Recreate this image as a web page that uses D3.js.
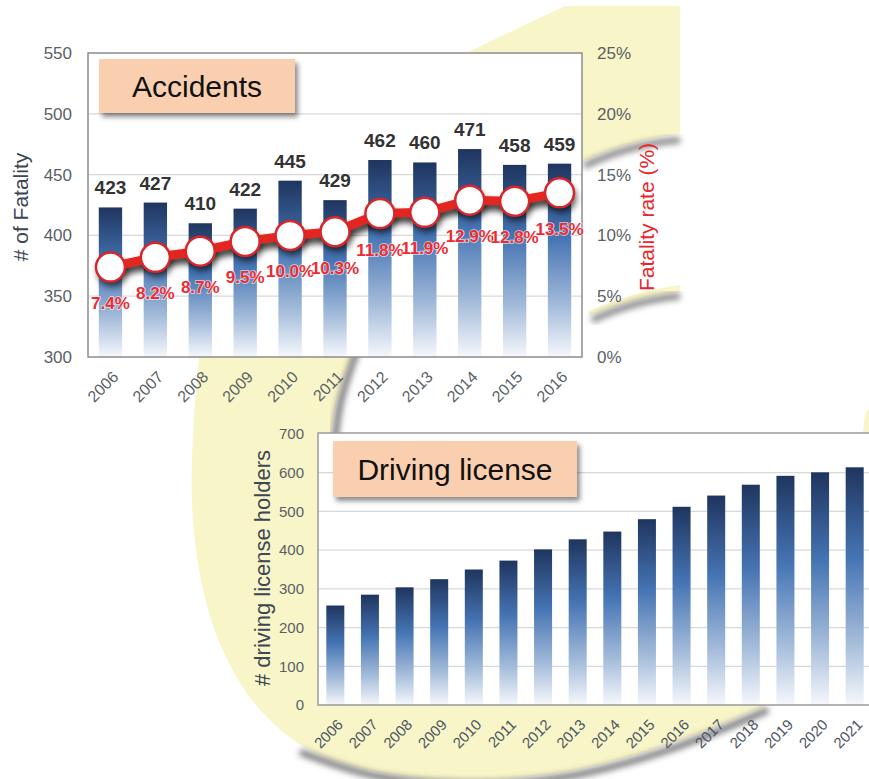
<!DOCTYPE html>
<html><head><meta charset="utf-8">
<script src="https://cdn.jsdelivr.net/npm/d3@7"></script>
<style>
html,body{margin:0;padding:0;background:#fff;}
svg{display:block;font-family:Arial,"Liberation Sans",Helvetica,sans-serif;}
</style></head>
<body>
<svg id="c" width="869" height="779"></svg>
<script>
// ---------- DATA ----------
const accYears = ["2006","2007","2008","2009","2010","2011","2012","2013","2014","2015","2016"];
const fatalities = [423,427,410,422,445,429,462,460,471,458,459];
const fatalityRate = [7.4,8.2,8.7,9.5,10.0,10.3,11.8,11.9,12.9,12.8,13.5];
const leftTicks = [300,350,400,450,500,550];
const rightTicks = [0,5,10,15,20,25];

const licYears = ["2006","2007","2008","2009","2010","2011","2012","2013","2014","2015","2016","2017","2018","2019","2020","2021"];
const licHolders = [257,285,304,325,350,373,402,428,448,480,512,541,569,592,601,614];
const licTicks = [0,100,200,300,400,500,600,700];

// decorative background outline (lens graphic)
const lensOuter = [[200,350],[194,420],[192,500],[201,580],[221,646],[256,705],[306,748],[376,772],[470,780],[565,772],[665,746],[766,706]];
const lensInner = [[331,436],[337,400],[355,350]];

const svg = d3.select("#c");
const defs = svg.append("defs");

function grad(id){
  const g = defs.append("linearGradient").attr("id",id).attr("x1",0).attr("y1",0).attr("x2",0).attr("y2",1);
  g.append("stop").attr("offset","0%").attr("stop-color","#1f355f");
  g.append("stop").attr("offset","38%").attr("stop-color","#4574b3");
  g.append("stop").attr("offset","75%").attr("stop-color","#a8bfdc");
  g.append("stop").attr("offset","100%").attr("stop-color","#f6f8fc");
}
grad("barGrad");
const blur = (id,s)=>defs.append("filter").attr("id",id).attr("x","-20%").attr("y","-20%").attr("width","140%").attr("height","140%")
  .append("feGaussianBlur").attr("stdDeviation",s);
blur("b2",2); blur("b3",3); blur("b4",4);
const ds = defs.append("filter").attr("id","boxShadow").attr("x","-10%").attr("y","-20%").attr("width","130%").attr("height","160%");
ds.append("feDropShadow").attr("dx",3).attr("dy",4).attr("stdDeviation",2.5).attr("flood-color","#000").attr("flood-opacity",0.45);

const YEL = "#f8f5c9";
// ---------- decoration ----------
const deco = svg.append("g");
const curve = d3.line().curve(d3.curveCatmullRom);
deco.append("path").attr("d","M466,53 L565,6 L680,6 L680,134 Q630,140 582,162 L582,53 Z").attr("fill",YEL);
deco.append("path").attr("d","M584,166 Q630,144 680,140").attr("fill","none").attr("stroke","#7d7d7d").attr("stroke-width",6).attr("filter","url(#b3)");
deco.append("path").attr("d","M588,312 Q630,292 680,285 L680,292 Q632,298 590,316 Z").attr("fill",YEL);
deco.append("path").attr("d","M592,320 Q636,300 680,296").attr("fill","none").attr("stroke","#7d7d7d").attr("stroke-width",6).attr("filter","url(#b3)");
deco.append("path").attr("d", curve(lensOuter) + "L790,690L790,440L331,440L331,436" + curve(lensInner).replace(/^M[^C]*/,"") + "Z").attr("fill",YEL);
deco.append("path").attr("d", curve([[300,752],[376,776],[470,784],[565,777],[665,751],[768,710]])).attr("fill","none").attr("stroke","#6d6d6d").attr("stroke-width",6).attr("filter","url(#b3)");
deco.append("path").attr("d", curve([[358,348],[341,400],[335,440]])).attr("fill","none").attr("stroke","#6d6d6d").attr("stroke-width",6).attr("filter","url(#b3)");
deco.append("path").attr("d","M863,433 L865,414 L869,408 L869,433 Z").attr("fill",YEL);

// ---------- TOP CHART ----------
const x1 = d3.scaleBand().domain(accYears).range([88,582]).paddingInner(0.48).paddingOuter(0.24);
const yL = d3.scaleLinear().domain([300,550]).range([357,53]);
const yR = d3.scaleLinear().domain([0,25]).range([357,53]);
const topG = svg.append("g");
topG.append("rect").attr("x",88).attr("y",53).attr("width",494).attr("height",304).attr("fill","#fff");
topG.append("g").selectAll("line").data(leftTicks.slice(1,-1)).join("line")
  .attr("x1",88).attr("x2",582).attr("y1",d=>yL(d)).attr("y2",d=>yL(d)).attr("stroke","#d8d8d8").attr("stroke-width",1.2);
topG.append("g").selectAll("rect").data(fatalities).join("rect")
  .attr("x",(d,i)=>x1(accYears[i])).attr("width",x1.bandwidth())
  .attr("y",d=>yL(d)).attr("height",d=>yL(300)-yL(d)).attr("fill","url(#barGrad)");
topG.append("rect").attr("x",88).attr("y",53).attr("width",494).attr("height",304).attr("fill","none").attr("stroke","#8c8c8c").attr("stroke-width",1.5);
const la = topG.append("g").attr("transform","translate(88,0)").call(d3.axisLeft(yL).tickValues(leftTicks).tickSize(0).tickPadding(16));
la.select(".domain").remove();
la.selectAll("text").attr("font-size",17).attr("fill","#5a5f66").attr("font-family","Arial,'Liberation Sans',sans-serif");
const ra = topG.append("g").attr("transform","translate(582,0)").call(d3.axisRight(yR).tickValues(rightTicks).tickSize(0).tickPadding(15).tickFormat(d=>d+"%"));
ra.select(".domain").remove();
ra.selectAll("text").attr("font-size",17).attr("fill","#5a5f66").attr("font-family","Arial,'Liberation Sans',sans-serif");
const xa = topG.append("g").attr("transform","translate(0,357)").call(d3.axisBottom(x1).tickSize(0));
xa.select(".domain").remove();
xa.selectAll("text").attr("font-size",16).attr("fill","#5a5f66").attr("text-anchor","end")
  .attr("font-family","Arial,'Liberation Sans',sans-serif")
  .attr("transform","translate(5,17) rotate(-45)").attr("dy","0.35em").attr("y",0);
topG.append("text").attr("transform","translate(28,207) rotate(-90)").attr("text-anchor","middle")
  .attr("font-size",21).attr("fill","#3d4654").text("# of Fatality");
topG.append("text").attr("transform","translate(654,217) rotate(-90)").attr("text-anchor","middle")
  .attr("font-size",21).attr("fill","#e8262a").text("Fatality rate (%)");
topG.append("g").selectAll("text").data(fatalities).join("text")
  .attr("x",(d,i)=>x1(accYears[i])+x1.bandwidth()/2).attr("y",d=>yL(d)-13)
  .attr("text-anchor","middle").attr("font-size",19).attr("font-weight","bold").attr("fill","#333")
  .text(d=>d);
topG.append("rect").attr("x",99).attr("y",59).attr("width",196).attr("height",54).attr("fill","#f9cfb0").attr("filter","url(#boxShadow)");
topG.append("text").attr("x",197).attr("y",97).attr("text-anchor","middle").attr("font-size",30).attr("fill","#111").text("Accidents");
const lineGen = d3.line().x((d,i)=>x1(accYears[i])+x1.bandwidth()/2).y(d=>yR(d));
topG.append("path").datum(fatalityRate).attr("d",lineGen).attr("fill","none").attr("stroke","#000").attr("stroke-width",10)
  .attr("opacity",0.75).attr("transform","translate(2,5)").attr("filter","url(#b3)");
topG.append("g").selectAll("circle").data(fatalityRate).join("circle")
  .attr("cx",(d,i)=>x1(accYears[i])+x1.bandwidth()/2+2).attr("cy",d=>yR(d)+5).attr("r",15)
  .attr("fill","#000").attr("opacity",0.6).attr("filter","url(#b3)");
topG.append("path").datum(fatalityRate).attr("d",lineGen).attr("fill","none").attr("stroke","#e3261f").attr("stroke-width",9).attr("stroke-linejoin","round");
topG.append("g").selectAll("circle").data(fatalityRate).join("circle")
  .attr("cx",(d,i)=>x1(accYears[i])+x1.bandwidth()/2).attr("cy",d=>yR(d)).attr("r",14.5)
  .attr("fill","#fff").attr("stroke","#d8262a").attr("stroke-width",2.5);
topG.append("g").selectAll("text").data(fatalityRate).join("text")
  .attr("x",(d,i)=>x1(accYears[i])+x1.bandwidth()/2).attr("y",d=>yR(d)+42)
  .attr("text-anchor","middle").attr("font-size",17).attr("font-weight","bold").attr("fill","#ee2a33")
  .attr("stroke","#ffffff").attr("stroke-width",1.6).attr("stroke-opacity",0.7).attr("paint-order","stroke")
  .text(d=>d.toFixed(1)+"%");

// ---------- BOTTOM CHART ----------
const x2 = d3.scaleBand().domain(licYears).range([318,872]).paddingInner(0.48).paddingOuter(0.24);
const y2 = d3.scaleLinear().domain([0,700]).range([705,434]);
const bot = svg.append("g");
bot.append("rect").attr("x",318).attr("y",433).attr("width",560).attr("height",272).attr("fill","#fff");
bot.append("g").selectAll("line").data(licTicks.slice(1,-1)).join("line")
  .attr("x1",318).attr("x2",869).attr("y1",d=>y2(d)).attr("y2",d=>y2(d)).attr("stroke","#d8d8d8").attr("stroke-width",1.2);
bot.append("g").selectAll("rect").data(licHolders).join("rect")
  .attr("x",(d,i)=>x2(licYears[i])).attr("width",x2.bandwidth())
  .attr("y",d=>y2(d)).attr("height",d=>y2(0)-y2(d)).attr("fill","url(#barGrad)");
bot.append("rect").attr("x",318).attr("y",433).attr("width",560).attr("height",272).attr("fill","none").attr("stroke","#9a9a9a").attr("stroke-width",1.5);
const la2 = bot.append("g").attr("transform","translate(318,0)").call(d3.axisLeft(y2).tickValues(licTicks).tickSize(0).tickPadding(14));
la2.select(".domain").remove();
la2.selectAll("text").attr("font-size",15).attr("fill","#5a5f66").attr("font-family","Arial,'Liberation Sans',sans-serif");
const xa2 = bot.append("g").attr("transform","translate(0,705)").call(d3.axisBottom(x2).tickSize(0));
xa2.select(".domain").remove();
xa2.selectAll("text").attr("font-size",15).attr("fill","#4d5563").attr("text-anchor","end")
  .attr("font-family","Arial,'Liberation Sans',sans-serif")
  .attr("transform","translate(5,17) rotate(-45)").attr("dy","0.35em").attr("y",0);
bot.append("text").attr("transform","translate(270,568) rotate(-90)").attr("text-anchor","middle")
  .attr("font-size",22).attr("fill","#3d4654").text("# driving license holders");
bot.append("rect").attr("x",333).attr("y",441).attr("width",244).attr("height",56).attr("fill","#f9cfb0").attr("filter","url(#boxShadow)");
bot.append("text").attr("x",455).attr("y",480).attr("text-anchor","middle").attr("font-size",30).attr("fill","#111").text("Driving license");
</script>
</body></html>
